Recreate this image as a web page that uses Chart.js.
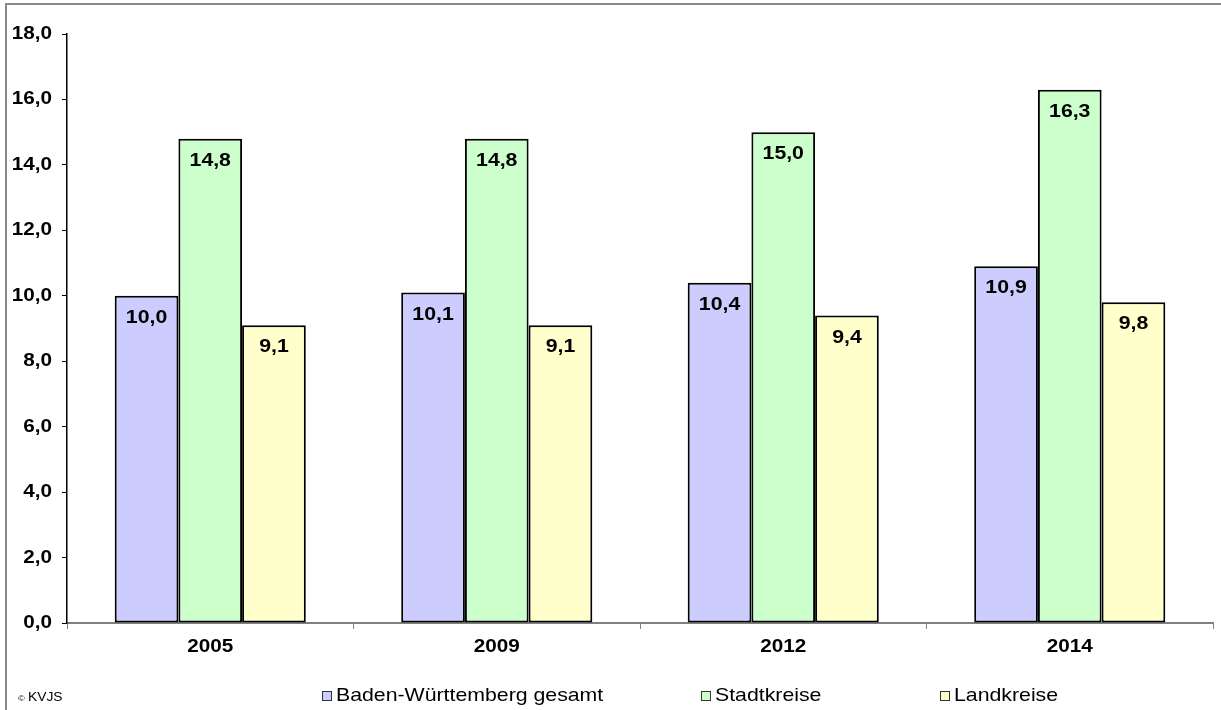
<!DOCTYPE html>
<html>
<head>
<meta charset="utf-8">
<script src="https://cdn.jsdelivr.net/npm/chart.js@4/dist/chart.umd.min.js"></script>
<style>
  html, body { margin: 0; padding: 0; background: #fff; }
  #wrap { width: 1221px; height: 710px; position: relative; }
</style>
</head>
<body>
<div id="wrap"><canvas id="chart" width="1221" height="710"></canvas></div>
<script>
// Jahre und Werte je Gebietstyp
const jahre       = ['2005', '2009', '2012', '2014'];
const bwGesamt    = [10.0, 10.1, 10.4, 10.9];
const stadtkreise = [14.8, 14.8, 15.0, 16.3];
const landkreise  = [9.1, 9.1, 9.4, 9.8];
const reihen      = ['Baden-Württemberg gesamt', 'Stadtkreise', 'Landkreise'];
const farben      = ['#CCCCFF', '#CCFFCC', '#FFFFCC'];

const fmt = v => Number(v).toFixed(1).replace('.', ',');
const FONT = 'Arial, "Liberation Sans", sans-serif';
const BREIT = 1.15; // Schrift etwas in die Breite ziehen

// Text mit horizontaler Streckung zeichnen
function text(c, s, x, y, font, align) {
  c.save();
  c.font = font;
  c.textAlign = align || 'left';
  c.textBaseline = 'middle';
  c.translate(x, y);
  c.scale(BREIT, 1);
  c.fillText(s, 0, 0);
  c.restore();
}

// Rahmen links/oben + weißer Hintergrund
const rahmen = {
  id: 'rahmen',
  beforeDraw(chart) {
    const c = chart.ctx;
    c.save();
    c.fillStyle = '#fff';
    c.fillRect(0, 0, chart.width, chart.height);
    c.strokeStyle = '#8a8a8a';
    c.lineWidth = 2;
    c.beginPath();
    c.moveTo(6, chart.height);
    c.lineTo(6, 4);
    c.lineTo(chart.width, 4);
    c.stroke();
    c.restore();
  }
};

// Achsenbeschriftungen
const achsen = {
  id: 'achsen',
  afterDraw(chart) {
    const c = chart.ctx;
    const { x, y } = chart.scales;
    c.save();
    c.fillStyle = '#000';
    y.ticks.forEach(t => {
      text(c, fmt(t.value), 52, y.getPixelForValue(t.value), 'bold 18px ' + FONT, 'right');
    });
    x.ticks.forEach((t, i) => {
      text(c, x.getLabelForValue(t.value), x.getPixelForTick(i), 647, 'bold 18px ' + FONT, 'center');
    });
    c.restore();
  }
};

// Werte in die Balken schreiben
const werte = {
  id: 'werte',
  afterDatasetsDraw(chart) {
    const c = chart.ctx;
    c.save();
    c.fillStyle = '#000';
    chart.data.datasets.forEach((ds, i) => {
      chart.getDatasetMeta(i).data.forEach((bar, j) => {
        text(c, fmt(ds.data[j]), bar.x, bar.y + 22, 'bold 18.5px ' + FONT, 'center');
      });
    });
    c.restore();
  }
};

// Legende unten + Copyright
const legende = {
  id: 'legende',
  afterDraw(chart) {
    const c = chart.ctx;
    const xs = [322, 701, 940];
    const y = 696;
    c.save();
    chart.data.datasets.forEach((ds, i) => {
      c.fillStyle = ds.backgroundColor;
      c.fillRect(xs[i], y - 5, 9, 9);
      c.strokeStyle = '#333';
      c.lineWidth = 1;
      c.strokeRect(xs[i] + 0.5, y - 4.5, 9, 9);
      c.fillStyle = '#000';
      text(c, ds.label, xs[i] + 14, y, '18.5px ' + FONT, 'left');
    });
    text(c, '©', 18, 699, '8px ' + FONT, 'left');
    text(c, 'KVJS', 28, 698, '12px ' + FONT, 'left');
    c.restore();
  }
};

new Chart(document.getElementById('chart'), {
  type: 'bar',
  data: {
    labels: jahre,
    datasets: [bwGesamt, stadtkreise, landkreise].map((d, i) => ({
      label: reihen[i],
      data: d,
      backgroundColor: farben[i],
      borderColor: '#000',
      borderWidth: 2,
      borderSkipped: false,
      barPercentage: 1,
      categoryPercentage: 0.667
    }))
  },
  options: {
    responsive: false,
    animation: false,
    events: [],
    layout: { padding: { left: 0, right: 8, top: 34, bottom: 0 } },
    plugins: { legend: { display: false }, tooltip: { enabled: false } },
    scales: {
      x: {
        offset: true,
        afterFit(s) { s.height = 87; },
        grid: { offset: true, drawOnChartArea: false, drawTicks: true, tickLength: 6, color: '#808080' },
        border: { color: '#808080', width: 2 },
        ticks: { display: false }
      },
      y: {
        min: 0,
        max: 18,
        afterFit(s) { s.width = 67; },
        grid: { drawOnChartArea: false, drawTicks: true, tickLength: 5, color: '#000' },
        border: { color: '#000', width: 1.5 },
        ticks: { display: false, stepSize: 2 }
      }
    }
  },
  plugins: [rahmen, werte, achsen, legende]
});
</script>
</body>
</html>
